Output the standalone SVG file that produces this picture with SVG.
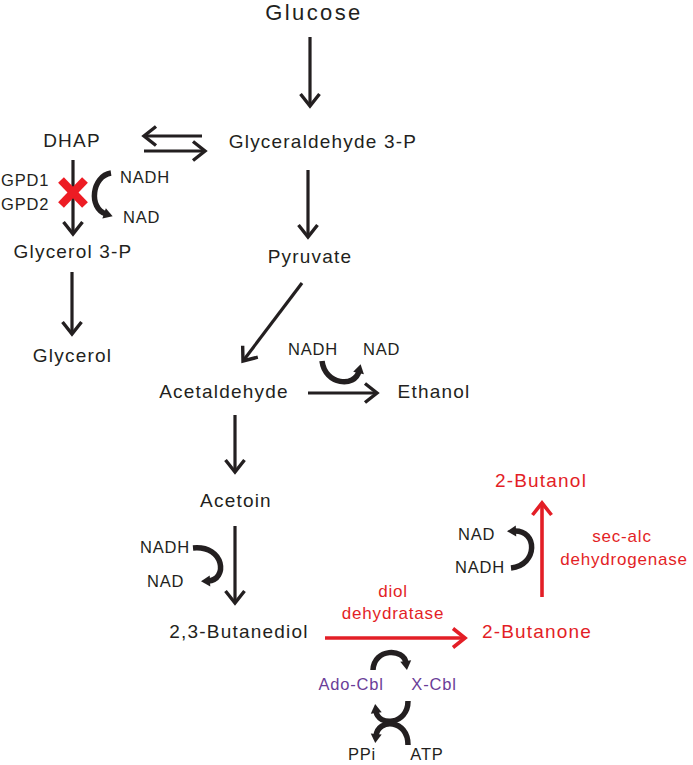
<svg xmlns="http://www.w3.org/2000/svg" width="693" height="765" viewBox="0 0 693 765">
<style>
text{font-family:"Liberation Sans",Arial,sans-serif;fill:#231f20}
.n{font-size:19px;letter-spacing:1.2px;text-anchor:middle}
.big{font-size:22px;letter-spacing:2.4px;text-anchor:middle}
.c{font-size:16.5px;letter-spacing:0.8px}
.r{fill:#e31e26}
.p{fill:#6a3d98}
.e{font-size:17px;letter-spacing:0.8px;text-anchor:middle;fill:#e31e26}
.a{stroke:#231f20;stroke-width:3.2;fill:none;marker-end:url(#chev)}
.ra{stroke:#e31e26;stroke-width:3.6;fill:none;marker-end:url(#rchev)}
.cf{stroke:#231f20;stroke-width:5.5;fill:none;marker-end:url(#tri)}
</style>
<defs>
<marker id="chev" viewBox="-16 -12 20 24" refX="0" refY="0" markerWidth="20" markerHeight="24" markerUnits="userSpaceOnUse" orient="auto"><path d="M-12,-9.5 L0,0 L-12,9.5" fill="none" stroke="#231f20" stroke-width="3.4"/></marker>
<marker id="rchev" viewBox="-16 -12 20 24" refX="0" refY="0" markerWidth="20" markerHeight="24" markerUnits="userSpaceOnUse" orient="auto"><path d="M-12,-9.5 L0,0 L-12,9.5" fill="none" stroke="#e31e26" stroke-width="3.6"/></marker>
<marker id="tri" viewBox="-3 -7 12 14" refX="0" refY="0" markerWidth="12" markerHeight="14" markerUnits="userSpaceOnUse" orient="auto"><path d="M-2,-5.5 L7,0 L-2,5.5 z" fill="#231f20"/></marker>
</defs>

<g id="connectors">
<line class="a" x1="310" y1="37" x2="310" y2="106"/>
<line class="a" x1="202" y1="136" x2="144" y2="136"/>
<line class="a" x1="144" y1="151" x2="205" y2="151"/>
<line class="a" x1="308" y1="170" x2="308" y2="237"/>
<line class="a" x1="73" y1="160" x2="73" y2="234"/>
<line class="a" x1="72" y1="272" x2="72" y2="334"/>
<line class="a" x1="302" y1="283" x2="243" y2="361"/>
<line class="a" x1="308" y1="393" x2="377" y2="393"/>
<line class="a" x1="235" y1="415" x2="235" y2="472"/>
<line class="a" x1="235" y1="526" x2="235" y2="603"/>
<line class="ra" x1="325" y1="638" x2="465" y2="638"/>
<line class="ra" x1="542" y1="597" x2="542" y2="503"/>
<path class="cf" d="M111,173 C92,176 88,208 106,214"/>
<path class="cf" d="M322,361 C325,385 355,388 359,371"/>
<path class="cf" d="M193,548 C225,545 228,580 208,581"/>
<path class="cf" d="M511,568 C538,565 538,530 514,531"/>
<path class="cf" d="M373,670 C374,648 404,648 406,663"/>
<path class="cf" d="M408,701 C408,725 378,727 376,711"/>
<path class="cf" d="M408,745 C408,719 378,718 376,736"/>
<g id="block">
<line x1="61" y1="180" x2="85" y2="205" stroke="#ed1c24" stroke-width="8"/>
<line x1="61" y1="205" x2="85" y2="180" stroke="#ed1c24" stroke-width="8"/>
</g>
</g>

<g id="glucose"><text class="big" x="314" y="20">Glucose</text></g>
<g id="g3p"><text class="n" x="323" y="148">Glyceraldehyde 3-P</text></g>
<g id="dhap"><text class="n" x="72" y="147">DHAP</text></g>
<g id="gpd"><text class="c" x="1" y="186">GPD1</text><text class="c" x="1" y="210">GPD2</text></g>
<g id="cof1"><text class="c" x="120" y="183">NADH</text><text class="c" x="123" y="223">NAD</text></g>
<g id="glycerol3p"><text class="n" x="73" y="258">Glycerol 3-P</text></g>
<g id="glycerol"><text class="n" x="72.5" y="362">Glycerol</text></g>
<g id="pyruvate"><text class="n" x="310" y="263">Pyruvate</text></g>
<g id="acetaldehyde"><text class="n" x="224" y="398">Acetaldehyde</text></g>
<g id="ethanol"><text class="n" x="434" y="398">Ethanol</text></g>
<g id="cof2"><text class="c" x="288" y="355">NADH</text><text class="c" x="363" y="355">NAD</text></g>
<g id="acetoin"><text class="n" x="236" y="507">Acetoin</text></g>
<g id="cof3"><text class="c" x="140" y="553">NADH</text><text class="c" x="147" y="587">NAD</text></g>
<g id="butanediol"><text class="n" x="239" y="638">2,3-Butanediol</text></g>
<g id="dioldehydratase"><text class="e" x="393" y="597">diol</text><text class="e" x="393" y="619">dehydratase</text></g>
<g id="butanone"><text class="n r" x="537" y="638">2-Butanone</text></g>
<g id="butanol"><text class="n r" x="541" y="487">2-Butanol</text></g>
<g id="cof4"><text class="c" x="458" y="540">NAD</text><text class="c" x="455" y="573">NADH</text></g>
<g id="secalc"><text class="e" x="622" y="542">sec-alc</text><text class="e" x="624" y="565">dehydrogenase</text></g>
<g id="cobalamin"><text class="c p" x="351" y="690" text-anchor="middle">Ado-Cbl</text><text class="c p" x="434" y="690" text-anchor="middle">X-Cbl</text></g>
<g id="atp"><text class="c" x="362" y="760" text-anchor="middle">PPi</text><text class="c" x="427" y="760" text-anchor="middle">ATP</text></g>
</svg>
